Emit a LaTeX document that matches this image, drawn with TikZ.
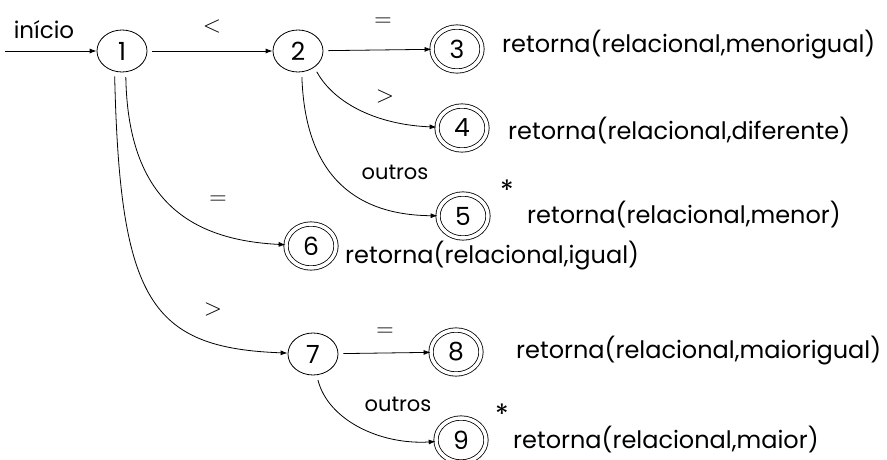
\documentclass[tikz,border=0pt]{standalone}
\usepackage{fontspec}
\setmainfont{Poppins}
\newfontfamily\lmsym{Latin Modern Roman}
\usetikzlibrary{shapes.geometric,arrows.meta}
\begin{document}
\begin{tikzpicture}[x=1pt,y=-1pt,
  every node/.style={font=\fontsize{21}{24}\selectfont},
  state/.style={ellipse,draw,line width=0.8pt,minimum width=50pt,minimum height=42pt,inner sep=0pt,font=\fontsize{25}{28}\selectfont},
  final/.style={ellipse,draw,line width=0.8pt,double,double distance=3.5pt,minimum width=50pt,minimum height=44pt,inner sep=0pt,font=\fontsize{25}{28}\selectfont},
  trans/.style={line width=0.8pt,-{Latex[length=7pt,width=5pt]},shorten <=5pt},
  lbl/.style={inner sep=0pt},
  sym/.style={inner sep=0pt,font=\lmsym\fontsize{24}{26}\selectfont},
  star/.style={inner sep=0pt,font=\fontsize{28}{30}\selectfont},
  act/.style={anchor=west,inner sep=0pt,font=\fontsize{24}{27}\selectfont}]
\useasboundingbox (0,0) rectangle (887,460);
% states
\node[state] (n1) at (122,51) {1};
\node[state] (n2) at (298,51) {2};
\node[final] (n3) at (457,49) {3};
\node[final] (n4) at (462,128) {4};
\node[final] (n5) at (463,216) {5};
\node[final] (n6) at (311,246) {6};
\node[state] (n7) at (313,354) {7};
\node[final] (n8) at (456,352) {8};
\node[final] (n9) at (461,440) {9};
% start arrow
\coordinate (s) at (5,51);
\node[lbl,font=\fontsize{23}{26}\selectfont] (ini) at (44,30) {início};
\draw[trans,shorten <=0pt] (s) -- (n1);
% transitions
\draw[trans] (n1) -- (n2);
\draw[trans] (n2) -- (n3);
\draw[trans] (n2.-45) .. controls (335,105) and (380,125) .. (n4);
\draw[trans] (n2.-80) .. controls (305,170) and (350,215) .. (n5);
\draw[trans] (n1.-80) .. controls (128,200) and (190,240) .. (n6);
\draw[trans] (n1.-110) .. controls (120,300) and (150,348) .. (n7);
\draw[trans] (n7) -- (n8);
\draw[trans] (n7.-80) .. controls (328,420) and (380,445) .. (n9);
% transition labels
\node[sym] (l12) at (212,27) {<};
\node[sym] (l23) at (383,22) {=};
\node[sym] (l24) at (385,97) {>};
\node[lbl] (l25) at (395,172) {outros};
\node[sym] (l16) at (218,200) {=};
\node[sym] (l17) at (213,310) {>};
\node[sym] (l78) at (385,332) {=};
\node[lbl] (l79) at (398,404) {outros};
% lookahead marks
\node[star] (a5) at (507,190) {*};
\node[star] (a9) at (502,414) {*};
% actions
\node[act] (t3) at (502,45) {retorna(relacional,menorigual)};
\node[act] (t4) at (508,131) {retorna(relacional,diferente)};
\node[act] (t5) at (527,215) {retorna(relacional,menor)};
\node[act] (t6) at (345,256) {retorna(relacional,igual)};
\node[act] (t8) at (516,351) {retorna(relacional,maiorigual)};
\node[act] (t9) at (513,440) {retorna(relacional,maior)};
\end{tikzpicture}
\end{document}
